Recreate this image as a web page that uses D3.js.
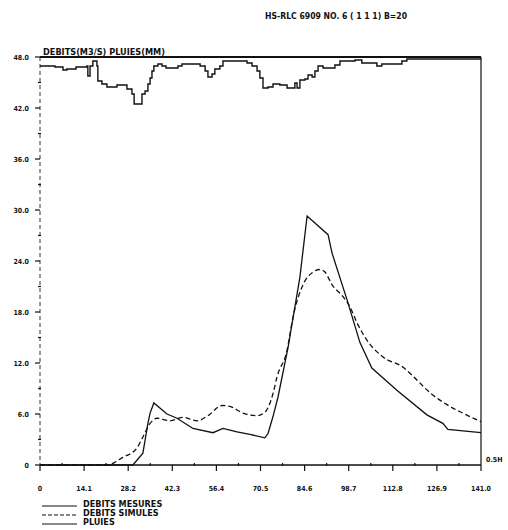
<!DOCTYPE html>
<html>
<head>
<meta charset="utf-8">
<script src="https://cdn.jsdelivr.net/npm/d3@7"></script>
<style>
  body { margin: 0; background: #fff; }
  text { font-family: "DejaVu Sans Condensed", "Liberation Sans Narrow", sans-serif; font-weight: bold; fill: #111; }
</style>
</head>
<body>
<div id="canvas"></div>
<script>
"use strict"

// time (hours) and flows (m3/s)
let measTime = [0, 29.7, 32.9, 34.5, 35.2, 36.4, 40.6, 43.8, 48.9, 55.3, 58.5, 63.0, 67.1, 71.9, 72.9, 74.5, 76.1,
                79.3, 83.1, 85.4, 92.1, 93.4, 98.2, 102.3, 106.1, 114.1, 123.7, 128.8, 130.4, 141.0];
let measFlow = [0, 0, 1.4, 4.9, 6.1, 7.3, 6.0, 5.5, 4.3, 3.8, 4.3, 3.9, 3.6, 3.2, 3.7, 5.7, 8.0,
                13.8, 22.1, 29.3, 27.1, 24.9, 19.4, 14.4, 11.4, 8.8, 5.9, 4.9, 4.2, 3.8];

let simTime = [0, 21.4, 26.5, 31.0, 32.9, 35.2, 37.4, 41.6, 45.7, 50.2, 53.7, 58.2, 60.7, 64.9, 69.4, 71.9, 74.5,
               75.8, 79.0, 80.9, 84.1, 87.3, 89.5, 91.1, 93.4, 96.9, 99.1, 101.4, 104.5, 109.7, 116.1, 120.5,
               124.7, 130.1, 135.2, 141.0];
let simFlow = [0, 0, 0.9, 2.0, 3.3, 4.9, 5.5, 5.2, 5.6, 5.2, 5.8, 7.0, 6.9, 6.1, 5.8, 6.2, 8.4,
               10.4, 13.5, 17.4, 21.2, 22.7, 23.0, 22.7, 21.2, 19.8, 18.6, 16.7, 14.7, 12.7, 11.5, 10.0,
               8.5, 7.1, 6.1, 5.1];

// rainfall (mm), drawn downward from the top line
let rainTime = [0, 4.8, 7.35, 8.6, 11.5, 15.0, 15.3, 16.0, 16.9, 18.2, 18.5, 19.8, 21.4, 24.6, 27.8, 29.4, 30.1,
                32.6, 33.6, 34.5, 35.2, 35.8, 36.4, 37.7, 39.0, 40.3, 44.1, 45.4, 51.2, 52.8, 53.7, 55.0, 55.9,
                57.5, 58.5, 66.2, 67.8, 69.4, 70.3, 71.3, 72.9, 74.5, 76.7, 79.0, 81.5, 82.2, 83.1, 84.7, 85.7,
                87.0, 87.9, 88.9, 90.5, 94.3, 95.9, 100.7, 102.9, 107.7, 109.3, 115.7, 117.3, 141.0];
let rainDepth = [1.06, 1.18, 1.53, 1.41, 1.18, 1.06, 2.24, 1.06, 0.47, 1.06, 2.82, 3.18, 3.53, 3.29, 3.76, 4.35, 5.53,
                 4.35, 4.0, 3.18, 2.47, 1.65, 1.06, 0.82, 1.06, 1.29, 1.06, 0.82, 1.06, 1.65, 2.35, 2.0, 1.41,
                 1.06, 0.47, 0.71, 1.06, 1.65, 2.47, 3.65, 3.53, 3.18, 3.29, 3.65, 3.06, 3.65, 2.71, 2.59, 2.12,
                 2.35, 1.65, 1.06, 1.29, 0.94, 0.47, 0.35, 0.71, 1.06, 0.82, 0.47, 0.24, 0.24];

let xTicks = [0, 14.1, 28.2, 42.3, 56.4, 70.5, 84.6, 98.7, 112.8, 126.9, 141.0];
let xTickLabels = ["0", "14.1", "28.2", "42.3", "56.4", "70.5", "84.6", "98.7", "112.8", "126.9", "141.0"];
let yTicks = [0, 6, 12, 18, 24, 30, 36, 42, 48];
let yTickLabels = ["0", "6.0", "12.0", "18.0", "24.0", "30.0", "36.0", "42.0", "48.0"];

let legendNames = ["DEBITS MESURES", "DEBITS SIMULES", "PLUIES"];

let drawing = d3.select("#canvas")
    .append("svg")
    .attr("width", 508)
    .attr("height", 530);

let x = d3.scaleLinear().domain([0, 141]).range([40, 481]);
let y = d3.scaleLinear().domain([0, 48]).range([465, 57]);
let yRain = d3.scaleLinear().domain([0, 6]).range([57, 108]); // pluies hang from the top

// title
drawing.append("text")
    .attr("x", 265)
    .attr("y", 19)
    .attr("font-size", 8)
    .attr("textLength", 142)
    .attr("lengthAdjust", "spacingAndGlyphs")
    .text("HS-RLC 6909 NO. 6 ( 1 1 1) B=20");

// axis name over the top line
drawing.append("text")
    .attr("x", 43)
    .attr("y", 55)
    .attr("font-size", 8)
    .attr("textLength", 122)
    .attr("lengthAdjust", "spacingAndGlyphs")
    .text("DEBITS(M3/S) PLUIES(MM)");

// frame: thick top line, right side, dashed left axis, bottom axis
drawing.append("line")
    .attr("x1", x(0)).attr("y1", y(48))
    .attr("x2", x(141)).attr("y2", y(48))
    .attr("stroke", "#111")
    .attr("stroke-width", 2.2);

drawing.append("line")
    .attr("x1", x(141)).attr("y1", y(48))
    .attr("x2", x(141)).attr("y2", y(0))
    .attr("stroke", "#222")
    .attr("stroke-width", 1.3);

drawing.append("line")
    .attr("x1", x(0)).attr("y1", y(48))
    .attr("x2", x(0)).attr("y2", y(0))
    .attr("stroke", "#333")
    .attr("stroke-width", 1)
    .attr("stroke-dasharray", "4,3");

drawing.append("line")
    .attr("x1", x(0)).attr("y1", y(0))
    .attr("x2", x(141)).attr("y2", y(0))
    .attr("stroke", "#111")
    .attr("stroke-width", 1.6);

// y ticks and labels
drawing.selectAll(".ytick")
    .data(yTicks)
    .enter()
    .append("line")
    .attr("class", "ytick")
    .attr("x1", x(0) - 5).attr("x2", x(0))
    .attr("y1", d => y(d)).attr("y2", d => y(d))
    .attr("stroke", "#111")
    .attr("stroke-width", 1.2);

drawing.selectAll(".yminor")
    .data(yTicks.slice(0, -1))
    .enter()
    .append("line")
    .attr("class", "yminor")
    .attr("x1", x(0) - 2).attr("x2", x(0) + 1)
    .attr("y1", d => y(d + 3)).attr("y2", d => y(d + 3))
    .attr("stroke", "#111")
    .attr("stroke-width", 1.2);

drawing.selectAll(".ylabel")
    .data(yTicks)
    .enter()
    .append("text")
    .attr("class", "ylabel")
    .attr("x", 29)
    .attr("y", d => y(d) + 3)
    .attr("text-anchor", "end")
    .attr("font-size", 7)
    .text((d, i) => yTickLabels[i]);

// x ticks and labels
drawing.selectAll(".xtick")
    .data(xTicks)
    .enter()
    .append("line")
    .attr("class", "xtick")
    .attr("x1", d => x(d)).attr("x2", d => x(d))
    .attr("y1", y(0)).attr("y2", y(0) + 6)
    .attr("stroke", "#111")
    .attr("stroke-width", 1.2);

drawing.selectAll(".xminor")
    .data(xTicks.slice(0, -1))
    .enter()
    .append("line")
    .attr("class", "xminor")
    .attr("x1", d => x(d + 7.05)).attr("x2", d => x(d + 7.05))
    .attr("y1", y(0) - 2).attr("y2", y(0) + 1)
    .attr("stroke", "#111")
    .attr("stroke-width", 1.2);

drawing.selectAll(".xlabel")
    .data(xTicks)
    .enter()
    .append("text")
    .attr("class", "xlabel")
    .attr("x", d => x(d))
    .attr("y", 491)
    .attr("text-anchor", "middle")
    .attr("font-size", 7)
    .text((d, i) => xTickLabels[i]);

drawing.append("text")
    .attr("x", 486)
    .attr("y", 462)
    .attr("font-size", 7)
    .text("0.5H");

// pluies (step line)
let rainLine = d3.line()
    .x((d, i) => x(rainTime[i]))
    .y(d => yRain(d))
    .curve(d3.curveStepAfter);

drawing.append("path")
    .attr("d", rainLine(rainDepth))
    .attr("fill", "none")
    .attr("stroke", "#111")
    .attr("stroke-width", 1.4);

// debits simules (dashed)
let simLine = d3.line()
    .x((d, i) => x(simTime[i]))
    .y(d => y(d))
    .curve(d3.curveMonotoneX);

drawing.append("path")
    .attr("d", simLine(simFlow))
    .attr("fill", "none")
    .attr("stroke", "#111")
    .attr("stroke-width", 1.3)
    .attr("stroke-dasharray", "5,3");

// debits mesures (solid)
let measLine = d3.line()
    .x((d, i) => x(measTime[i]))
    .y(d => y(d));

drawing.append("path")
    .attr("d", measLine(measFlow))
    .attr("fill", "none")
    .attr("stroke", "#111")
    .attr("stroke-width", 1.3);

// legend
let legendDash = [null, "4,2", null];

legendNames.forEach(function (name, i) {
    let ly = 506 + i * 9;
    drawing.append("line")
        .attr("x1", 42).attr("x2", 77)
        .attr("y1", ly).attr("y2", ly)
        .attr("stroke", "#111")
        .attr("stroke-width", 1.2)
        .attr("stroke-dasharray", legendDash[i]);
    drawing.append("text")
        .attr("x", 83)
        .attr("y", ly + 1)
        .attr("font-size", 9)
        .text(name);
});
</script>
</body>
</html>
